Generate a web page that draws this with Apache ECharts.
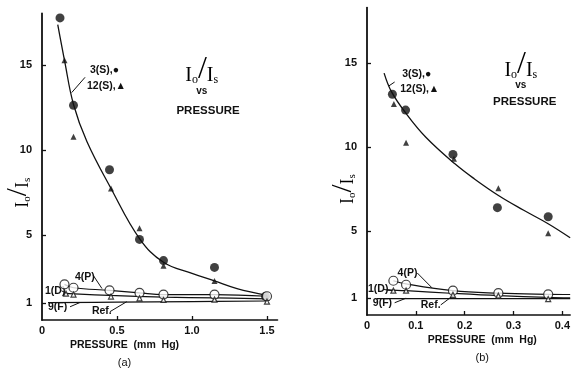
<!DOCTYPE html>
<html><head><meta charset="utf-8">
<script src="https://cdn.jsdelivr.net/npm/echarts@6/dist/echarts.min.js"></script>
<style>html,body{margin:0;padding:0;background:#fff}#c{width:573px;height:369px}</style>
</head><body><div id="c"></div>
<script>
// ---------- Panel (a) data ----------
const a_x3S = [0.12, 0.21, 0.45, 0.65, 0.81, 1.15, 1.49];
const a_y3S = [17.8, 12.65, 8.85, 4.75, 3.5, 3.1, 1.4];
const a_x12S = [0.15, 0.21, 0.46, 0.65, 0.81, 1.15, 1.5];
const a_y12S = [15.3, 10.8, 7.75, 5.4, 3.2, 2.3, 1.3];
const a_xFit = [0.105, 0.15, 0.21, 0.3, 0.46, 0.65, 0.81, 1.0, 1.15, 1.3, 1.5];
const a_yFit = [17.4, 15.3, 12.7, 10.5, 7.75, 4.8, 3.4, 2.75, 2.3, 1.85, 1.45];
const a_x4P = [0.15, 0.21, 0.45, 0.65, 0.81, 1.15, 1.5];
const a_y4P = [2.1, 1.9, 1.75, 1.6, 1.5, 1.5, 1.4];
const a_x1D = [0.16, 0.21, 0.46, 0.65, 0.81, 1.15, 1.5];
const a_y1D = [1.55, 1.5, 1.38, 1.28, 1.18, 1.2, 1.08];
const a_x1DLine = [0.15, 0.45, 0.81, 1.15, 1.5];
const a_y1DLine = [1.57, 1.45, 1.35, 1.3, 1.25];
const a_xRef = [0.04, 0.5, 1.0, 1.5];
const a_yRef = [1.02, 1.05, 1.08, 1.12];

// ---------- Panel (b) data ----------
const b_x3S = [0.052, 0.079, 0.176, 0.267, 0.371];
const b_y3S = [13.14, 12.2, 9.56, 6.39, 5.85];
const b_x12S = [0.055, 0.08, 0.178, 0.269, 0.371];
const b_y12S = [12.56, 10.26, 9.3, 7.54, 4.86];
const b_xFit = [0.035, 0.05, 0.08, 0.12, 0.18, 0.22, 0.27, 0.32, 0.37, 0.416];
const b_yFit = [14.4, 13.3, 12.0, 10.6, 9.0, 8.1, 7.1, 6.25, 5.45, 4.6];
const b_x4P = [0.054, 0.08, 0.176, 0.269, 0.371];
const b_y4P = [2.04, 1.8, 1.45, 1.3, 1.23];
const b_x4PLine = [0.054, 0.08, 0.176, 0.269, 0.371, 0.416];
const b_y4PLine = [2.04, 1.85, 1.45, 1.3, 1.23, 1.22];
const b_x1D = [0.054, 0.08, 0.176, 0.269, 0.371];
const b_y1D = [1.45, 1.45, 1.2, 1.15, 0.95];
const b_x1DLine = [0.04, 0.08, 0.18, 0.27, 0.37, 0.416];
const b_y1DLine = [1.5, 1.45, 1.28, 1.15, 1.05, 1.02];
const b_xRef = [0.02, 0.416];
const b_yRef = [0.97, 0.97];

// ---------- tick labels ----------
const yTicks = [1, 5, 10, 15];
const a_xTicks = [0, 0.5, 1.0, 1.5];
const b_xTicks = [0, 0.1, 0.2, 0.3, 0.4];

// ---------- annotations (data coords) ----------
const annotations = [
  {g:0, t:'3(S),●', x:0.32, y:14.7},
  {g:0, t:'12(S),▲', x:0.30, y:13.8},
  {g:0, t:'4(P)', x:0.22, y:2.55},
  {g:0, t:'1(D)', x:0.02, y:1.72},
  {g:0, t:'9(F)', x:0.04, y:0.78},
  {g:0, t:'Ref.', x:0.333, y:0.55},
  {g:1, t:'3(S),●', x:0.072, y:14.35},
  {g:1, t:'12(S),▲', x:0.068, y:13.45},
  {g:1, t:'4(P)', x:0.0626, y:2.52},
  {g:1, t:'1(D)', x:0.002, y:1.53},
  {g:1, t:'9(F)', x:0.012, y:0.73},
  {g:1, t:'Ref.', x:0.11, y:0.6}
];
const leaders = [
  {g:0, x1:0.287, y1:14.3, x2:0.198, y2:13.4},
  {g:0, x1:0.34, y1:2.65, x2:0.40, y2:1.85},
  {g:0, x1:0.13, y1:1.72, x2:0.165, y2:1.57},
  {g:0, x1:0.187, y1:0.78, x2:0.253, y2:1.03},
  {g:0, x1:0.453, y1:0.49, x2:0.565, y2:1.08},
  {g:1, x1:0.0566, y1:13.87, x2:0.0444, y2:13.63},
  {g:1, x1:0.103, y1:2.5, x2:0.133, y2:1.62},
  {g:1, x1:0.034, y1:1.52, x2:0.0525, y2:1.45},
  {g:1, x1:0.0566, y1:0.73, x2:0.080, y2:1.0},
  {g:1, x1:0.151, y1:0.6, x2:0.178, y2:1.19}
];
const titles = [
  {g:0, x:1.065, y:14.75, vsY:13.45, pY:12.35, px:1.107},
  {g:1, x:0.315, y:14.9, vsY:13.69, pY:12.68, px:0.323}
];
const captions = [
  {g:0, x:0.55, name:'PRESSURE  (mm  Hg)', sub:'(a)'},
  {g:1, x:0.236, name:'PRESSURE  (mm  Hg)', sub:'(b)'}
];

const pair = (xs, ys) => xs.map((x, i) => [x, ys[i]]);
const FONT = 'Liberation Sans';
const txt = {fontFamily: FONT, fontWeight: 'bold', fontSize: 10, color: '#111'};

function mkX(idx, max, ticks, ticksOnly) {
  return {
    type: 'value', gridIndex: idx, min: 0, max: max,
    axisLine: {show: true, onZero: false, lineStyle: {color: '#111', width: 1.6}},
    axisTick: {show: true, inside: true, length: 4, lineStyle: {color: '#111', width: 1.3}, customValues: ticksOnly},
    axisLabel: Object.assign({}, txt, {fontSize: 11, margin: 5, customValues: ticks,
      formatter: v => v === 0 ? '0' : v.toFixed(1)}),
    splitLine: {show: false}
  };
}
function mkY(idx, max) {
  return {
    type: 'value', gridIndex: idx, min: 0, max: max,
    axisLine: {show: true, onZero: false, lineStyle: {color: '#111', width: 1.8}},
    axisTick: {show: true, inside: true, length: 4, lineStyle: {color: '#111', width: 1.3}, customValues: yTicks},
    axisLabel: Object.assign({}, txt, {fontSize: 11, margin: 10, customValues: yTicks}),
    splitLine: {show: false}
  };
}
const lineS = (idx, data, w) => ({type: 'line', xAxisIndex: idx, yAxisIndex: idx, data: data, smooth: 0.4,
  showSymbol: false, symbol: 'none', lineStyle: {color: '#111', width: w || 1.2}, z: 2, silent: true});
const dotS = (idx, data, sym, size, filled) => ({type: 'scatter', xAxisIndex: idx, yAxisIndex: idx, data: data,
  symbol: sym, symbolSize: size, z: 3, silent: true,
  itemStyle: filled ? {color: '#111'} : {color: '#fff', borderColor: '#111', borderWidth: 1.2}});

const chart = echarts.init(document.getElementById('c'), null, {renderer: 'canvas'});
chart.setOption({
  animation: false,
  backgroundColor: '#fff',
  grid: [
    {left: 42, top: 13.5, width: 235.5, height: 306.5},
    {left: 367, top: 7.6, width: 206, height: 307.4}
  ],
  xAxis: [mkX(0, 1.57, a_xTicks, [0.5, 1.0, 1.5]), mkX(1, 0.416, b_xTicks, [0.1, 0.2, 0.3, 0.4])],
  yAxis: [mkY(0, 18.06), mkY(1, 18.3)],
  series: [
    lineS(0, pair(a_xFit, a_yFit), 1.3),
    lineS(0, pair(a_x4P, a_y4P)),
    lineS(0, pair(a_x1DLine, a_y1DLine)),
    lineS(0, pair(a_xRef, a_yRef)),
    dotS(0, pair(a_x3S, a_y3S), 'circle', 9, true),
    dotS(0, pair(a_x12S, a_y12S), 'triangle', 6, true),
    dotS(0, pair(a_x4P, a_y4P), 'circle', 9, false),
    dotS(0, pair(a_x1D, a_y1D), 'triangle', 5, false),
    lineS(1, pair(b_xFit, b_yFit), 1.3),
    lineS(1, pair(b_x4PLine, b_y4PLine)),
    lineS(1, pair(b_x1DLine, b_y1DLine)),
    lineS(1, pair(b_xRef, b_yRef)),
    dotS(1, pair(b_x3S, b_y3S), 'circle', 9, true),
    dotS(1, pair(b_x12S, b_y12S), 'triangle', 6, true),
    dotS(1, pair(b_x4P, b_y4P), 'circle', 9, false),
    dotS(1, pair(b_x1D, b_y1D), 'triangle', 5, false)
  ]
});

const P = (g, x, y) => chart.convertToPixel({gridIndex: g}, [x, y]);
const ratioRich = (big) => ({
  a: {fontFamily: 'Liberation Serif', fontSize: big, color: '#111', lineHeight: big + 2, verticalAlign: 'bottom'},
  s: {fontFamily: 'Liberation Serif', fontSize: Math.round(big * 0.62), color: '#111', lineHeight: 9, verticalAlign: 'bottom'},
  sl: {fontFamily: 'Liberation Serif', fontSize: Math.round(big * 1.6), color: '#111', lineHeight: Math.round(big * 1.6), verticalAlign: 'middle'}
});
const ratioText = '{a|I}{s|o}{sl|/}{a|I}{s|s}';
const gfx = [];
annotations.forEach(a => {
  const p = P(a.g, a.x, a.y);
  gfx.push({type: 'text', x: p[0], y: p[1], style: {text: a.t, fill: '#111', font: 'bold 10.5px ' + FONT,
    textVerticalAlign: 'middle', textAlign: 'left'}});
});
leaders.forEach(l => {
  const p1 = P(l.g, l.x1, l.y1), p2 = P(l.g, l.x2, l.y2);
  gfx.push({type: 'line', shape: {x1: p1[0], y1: p1[1], x2: p2[0], y2: p2[1]},
    style: {stroke: '#111', lineWidth: 1}});
});
titles.forEach(t => {
  const p = P(t.g, t.x, t.y), v = P(t.g, t.x, t.vsY), q = P(t.g, t.px, t.pY);
  gfx.push({type: 'text', x: p[0], y: p[1], style: {text: ratioText, rich: ratioRich(20),
    textAlign: 'center', textVerticalAlign: 'middle'}});
  gfx.push({type: 'text', x: v[0], y: v[1], style: {text: 'vs', fill: '#111', font: 'bold 10px ' + FONT,
    textAlign: 'center', textVerticalAlign: 'middle'}});
  gfx.push({type: 'text', x: q[0], y: q[1], style: {text: 'PRESSURE', fill: '#111', font: 'bold 11.5px ' + FONT,
    textAlign: 'center', textVerticalAlign: 'middle'}});
});
captions.forEach(c => {
  const p = P(c.g, c.x, 0);
  gfx.push({type: 'text', x: p[0], y: p[1] + 25, style: {text: c.name, fill: '#111', font: 'bold 10.5px ' + FONT,
    textAlign: 'center', textVerticalAlign: 'middle'}});
  gfx.push({type: 'text', x: p[0], y: p[1] + 43, style: {text: c.sub, fill: '#111', font: '11px ' + FONT,
    textAlign: 'center', textVerticalAlign: 'middle'}});
});
[0, 1].forEach(g => {
  const p = P(g, 0, 7.5);
  gfx.push({type: 'text', x: p[0] - 24, y: p[1], rotation: Math.PI / 2,
    style: {text: ratioText, rich: ratioRich(18), textAlign: 'center', textVerticalAlign: 'middle'}});
});
chart.setOption({graphic: {elements: gfx}});
</script>
</body></html>
